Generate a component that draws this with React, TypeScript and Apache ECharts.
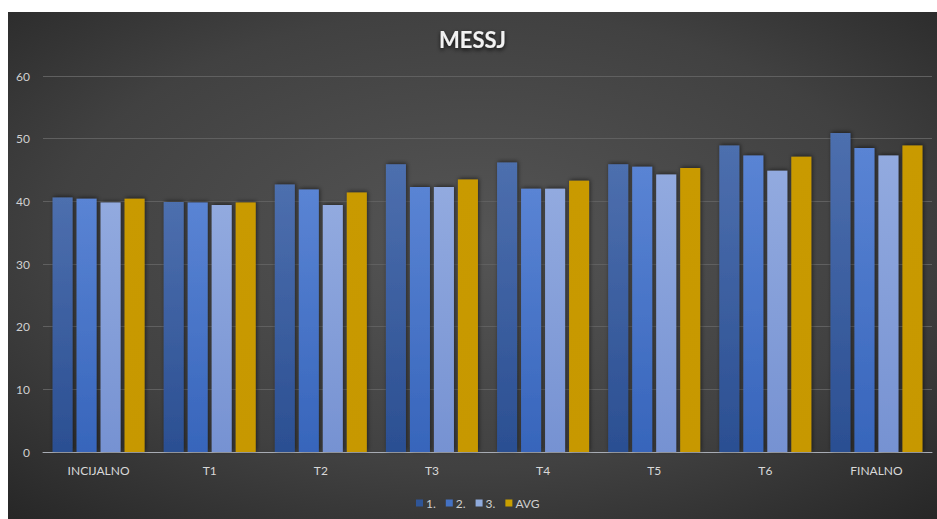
import React, { useEffect, useRef } from "react";
import * as echarts from "echarts";

const categories = ["INCIJALNO", "T1", "T2", "T3", "T4", "T5", "T6", "FINALNO"];
const series1 = [40.6, 39.9, 42.7, 45.9, 46.2, 45.9, 48.9, 50.9];
const series2 = [40.4, 39.8, 41.9, 42.3, 42.0, 45.5, 47.3, 48.5];
const series3 = [39.8, 39.4, 39.4, 42.3, 42.0, 44.3, 44.9, 47.3];
const seriesAvg = [40.4, 39.8, 41.4, 43.5, 43.3, 45.3, 47.1, 48.9];
const seriesNames = ["1.", "2.", "3.", "AVG"];

const grad = (top: string, bottom: string) =>
  new echarts.graphic.LinearGradient(0, 0, 0, 1, [
    { offset: 0, color: top },
    { offset: 1, color: bottom },
  ]);

export default function App() {
  const ref = useRef<HTMLDivElement>(null);
  useEffect(() => {
    if (!ref.current) return;
    const chart = echarts.init(ref.current, null, { renderer: "svg" });
    const shadow = {
      shadowColor: "rgba(0,0,0,0.55)",
      shadowBlur: 4,
      shadowOffsetX: 1,
      shadowOffsetY: -1,
    };
    const colors = [
      grad("#4d6fae", "#2b4f92"),
      grad("#5a84d4", "#3765bb"),
      grad("#92aadf", "#7692d2"),
      grad("#c99a00", "#c79800"),
    ];
    const legendColors = ["#2f5597", "#4472c4", "#8faadc", "#c9a000"];
    const data = [series1, series2, series3, seriesAvg];
    chart.setOption({
      animation: false,
      backgroundColor: new echarts.graphic.RadialGradient(0.5, 0.45, 0.75, [
        { offset: 0, color: "#555555" },
        { offset: 0.6, color: "#414141" },
        { offset: 1, color: "#262626" },
      ]),
      title: {
        text: "MESSJ",
        left: "center",
        top: 11,
        textStyle: {
          color: "#f2f2f2",
          fontSize: 22,
          fontWeight: "bold",
          fontFamily: "Lato",
          textShadowColor: "rgba(0,0,0,0.8)",
          textShadowBlur: 4,
          textShadowOffsetY: 2,
        },
      },
      legend: {
        bottom: 5,
        left: 403,
        itemWidth: 7,
        itemHeight: 7,
        itemGap: 10,
        icon: "rect",
        textStyle: { color: "#d0d0d0", fontSize: 12, fontFamily: "Lato", padding: [0, 0, 0, -2] },
        data: seriesNames.map((n, i) => ({ name: n, itemStyle: { color: legendColors[i] } })),
      },
      grid: { left: 35, right: 5, top: 64, bottom: 67, containLabel: false },
      xAxis: {
        type: "category",
        data: categories,
        axisLine: { lineStyle: { color: "#a8acb4", width: 1 } },
        axisTick: { show: false },
        axisLabel: { color: "#d8d8d8", fontSize: 12, fontFamily: "Lato", margin: 12 },
      },
      yAxis: {
        type: "value",
        min: 0,
        max: 60,
        interval: 10,
        axisLine: { show: false },
        axisTick: { show: false },
        axisLabel: { color: "#d0d0d0", fontSize: 12, fontFamily: "Lato", margin: 13 },
        splitLine: { lineStyle: { color: "#606060", width: 1 } },
      },
      series: data.map((d, i) => ({
        name: seriesNames[i],
        type: "bar",
        data: d,
        barWidth: 20,
        barGap: "20%",
        itemStyle: { color: colors[i], ...shadow },
      })),
    });
    return () => chart.dispose();
  }, []);
  return (
    <div
      ref={ref}
      style={{ position: "absolute", left: 8, top: 12, width: 929, height: 507 }}
    />
  );
}
